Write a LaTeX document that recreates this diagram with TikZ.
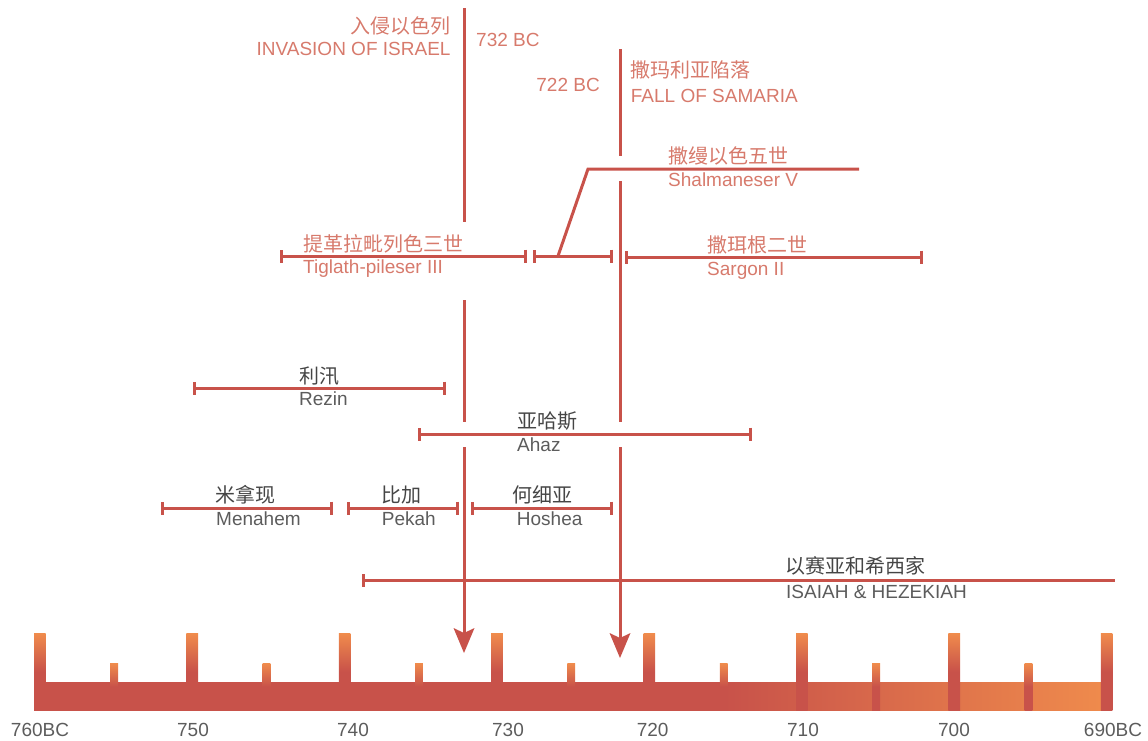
\documentclass[tikz,border=0pt]{standalone}
\usepackage{fontspec}
\setmainfont{Liberation Sans}
\newfontfamily\cjk{Noto Sans CJK SC}
\usetikzlibrary{arrows.meta}
\definecolor{lred}{HTML}{C8524A}
\definecolor{torange}{HTML}{F08C4C}
\definecolor{salmon}{HTML}{D77A6C}
\definecolor{gzh}{HTML}{454545}
\definecolor{gen}{HTML}{5C5C5C}
\pgfdeclarehorizontalshading{barshade}{100bp}{color(0bp)=(lred); color(57bp)=(lred); color(75bp)=(torange); color(100bp)=(torange)}
\pgfdeclareverticalshading{tickshade}{100bp}{color(0bp)=(lred); color(50bp)=(lred); color(75bp)=(torange); color(100bp)=(torange)}
\tikzset{
  lin/.style={draw=lred, line width=3pt},
  reign/.style={lin, {Bar[width=13pt,line width=3pt]}-{Bar[width=13pt,line width=3pt]}},
  reignl/.style={lin, {Bar[width=13pt,line width=3pt]}-},
  evtarrow/.style={lin, -{Stealth[length=25pt,width=21pt,inset=5pt,line width=0pt]}},
  en/.style={inner sep=0pt, font=\fontsize{19pt}{22pt}\selectfont},
  zh/.style={inner sep=0pt, font=\fontsize{20pt}{24pt}\selectfont\cjk},
  hot/.style={text=salmon},
  enk/.style={en, text=gen},
  zhk/.style={zh, text=gzh},
  yr/.style={en, text=gen, anchor=base},
}
\begin{document}
\begin{tikzpicture}[x=1pt, y=-1pt]
\useasboundingbox (0,0) rectangle (1148,740);

% ---- timeline bar ----
\shade[shading=barshade] (34,682) rectangle (1112.2,710);
\foreach \i in {0,...,7} {
  \shade[shading=tickshade] ({34+152.4*\i},633) rectangle ({45.6+152.4*\i},710);
}
\foreach \i in {0,...,6} {
  \shade[shading=tickshade] ({110.2+152.4*\i},663) rectangle ({118+152.4*\i},710);
}
\node[yr] (y760) at (40,736.7) {760BC};
\node[yr] (y750) at (193,736.7) {750};
\node[yr] (y740) at (353,736.7) {740};
\node[yr] (y730) at (508,736.7) {730};
\node[yr] (y720) at (652.7,736.7) {720};
\node[yr] (y710) at (803,736.7) {710};
\node[yr] (y700) at (954,736.7) {700};
\node[yr] (y690) at (1113,736.7) {690BC};

% ---- event lines ----
\coordinate (e732a) at (464,8);
\coordinate (e732b) at (464,222);
\coordinate (e732c) at (464,300);
\coordinate (e732d) at (464,422);
\coordinate (e732e) at (464,447);
\coordinate (e732tip) at (464,653);
\coordinate (e722a) at (620,49);
\coordinate (e722b) at (620,156);
\coordinate (e722c) at (620,181);
\coordinate (e722d) at (620,422);
\coordinate (e722e) at (620,447);
\coordinate (e722tip) at (620,658);
\draw[lin] (e732a) -- (e732b);
\draw[lin] (e732c) -- (e732d);
\draw[evtarrow] (e732e) -- (e732tip);
\draw[lin] (e722a) -- (e722b);
\draw[lin] (e722c) -- (e722d);
\draw[evtarrow] (e722e) -- (e722tip);

\node[zh, hot, anchor=base east] (invzh) at (450.7,33.6) {入侵以色列};
\node[en, hot, anchor=base east] (inven) at (450.7,55) {INVASION OF ISRAEL};
\node[en, hot, anchor=base west] (d732) at (476,46.7) {732 BC};
\node[en, hot, anchor=base east] (d722) at (600,91.7) {722 BC};
\node[zh, hot, anchor=base west] (samzh) at (630.7,77) {撒玛利亚陷落};
\node[en, hot, anchor=base west] (samen) at (630.7,102.3) {FALL OF SAMARIA};

% ---- Assyrian kings ----
\coordinate (tigL) at (280,256);
\coordinate (tigR) at (527,256);
\coordinate (shaL) at (533,256);
\coordinate (shaR) at (613,256);
\coordinate (sarL) at (625,257);
\coordinate (sarR) at (923,257);
\coordinate (sh1) at (558,256);
\coordinate (sh2) at (588,169);
\coordinate (sh3) at (859,169);
\draw[reign] (tigL) -- (tigR);
\draw[reign] (shaL) -- (shaR);
\draw[reign] (sarL) -- (sarR);
\draw[lin] (sh1) -- (sh2) -- (sh3);

\node[zh, hot, anchor=base west] (tigzh) at (303,251.6) {提革拉毗列色三世};
\node[en, hot, anchor=base west] (tigen) at (303,273.3) {Tiglath-pileser III};
\node[zh, hot, anchor=base west] (shazh) at (668,163.6) {撒缦以色五世};
\node[en, hot, anchor=base west] (shaen) at (668,186.7) {Shalmaneser V};
\node[zh, hot, anchor=base west] (sarzh) at (707,252) {撒珥根二世};
\node[en, hot, anchor=base west] (saren) at (707,275) {Sargon II};

% ---- other rulers ----
\coordinate (rezL) at (193,388);
\coordinate (rezR) at (446,388);
\coordinate (ahzL) at (418,434);
\coordinate (ahzR) at (752,434);
\coordinate (menL) at (161,508);
\coordinate (menR) at (333,508);
\coordinate (pekL) at (347,508);
\coordinate (pekR) at (459,508);
\coordinate (hosL) at (471,508);
\coordinate (hosR) at (613,508);
\coordinate (isaL) at (362,580);
\coordinate (isaR) at (1115,580);
\draw[reign] (rezL) -- (rezR);
\draw[reign] (ahzL) -- (ahzR);
\draw[reign] (menL) -- (menR);
\draw[reign] (pekL) -- (pekR);
\draw[reign] (hosL) -- (hosR);
\draw[reignl] (isaL) -- (isaR);

\node[zhk, anchor=base west] (rezzh) at (299,383.6) {利汛};
\node[enk, anchor=base west] (rezen) at (299,405) {Rezin};
\node[zhk, anchor=base west] (ahzzh) at (517,428.6) {亚哈斯};
\node[enk, anchor=base west] (ahzen) at (517,451.7) {Ahaz};
\node[zhk, anchor=base west] (menzh) at (215,502.6) {米拿现};
\node[enk, anchor=base west] (menen) at (216,525) {Menahem};
\node[zhk, anchor=base west] (pekzh) at (381.7,502.6) {比加};
\node[enk, anchor=base west] (peken) at (381.7,525) {Pekah};
\node[zhk, anchor=base west] (hoszh) at (512,502.6) {何细亚};
\node[enk, anchor=base west] (hosen) at (516.7,525) {Hoshea};
\node[zhk, anchor=base west] (isazh) at (785,573.6) {以赛亚和希西家};
\node[enk, anchor=base west] (isaen) at (786,598) {ISAIAH \& HEZEKIAH};
\end{tikzpicture}
\end{document}
